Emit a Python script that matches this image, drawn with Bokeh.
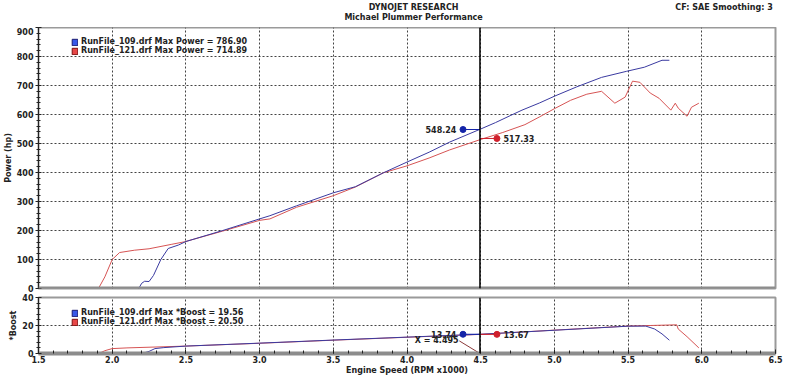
from bokeh.plotting import figure
from bokeh.layouts import column
from bokeh.models import (Span, Legend, LegendItem, Range1d, SingleIntervalTicker,
                          NumeralTickFormatter)
from bokeh.embed import file_html
from bokeh.resources import INLINE
from bokeh.core.properties import value

# ---------------- data ----------------
rpm_109 = [2.18, 2.20, 2.22, 2.25, 2.28, 2.33, 2.38, 2.45, 2.50, 2.75, 3.00, 3.07, 3.25, 3.50,
           3.65, 3.84, 4.00, 4.15, 4.29, 4.50, 4.60, 4.70, 4.78, 4.90, 5.00, 5.15, 5.32, 5.49,
           5.61, 5.73, 5.78]
hp_109 = [0, 18, 25, 24, 45, 100, 138, 150, 162, 200, 240, 251, 285, 330,
          351, 399, 436, 470, 505, 550, 572, 596, 615, 640, 663, 695, 728, 749,
          763, 787, 787]

rpm_121 = [1.91, 1.95, 2.00, 2.05, 2.15, 2.25, 2.40, 2.49, 2.75, 3.00, 3.07, 3.25, 3.50, 3.65,
           3.84, 4.00, 4.15, 4.29, 4.50, 4.65, 4.80, 4.90, 5.00, 5.11, 5.22, 5.32, 5.41, 5.48,
           5.53, 5.58, 5.65, 5.71, 5.79, 5.82, 5.84, 5.90, 5.93, 5.98]
hp_121 = [3, 40, 100, 124, 132, 137, 152, 161, 198, 235, 240, 280, 320, 350,
          399, 423, 450, 478, 514, 538, 565, 592, 620, 649, 670, 680, 639, 660,
          715, 711, 674, 656, 615, 639, 622, 594, 625, 639]

boost_rpm_109 = [2.20, 2.25, 2.29, 2.35, 2.50, 3.00, 3.50, 4.00, 4.50, 5.00, 5.50, 5.62, 5.68, 5.73, 5.78]
boost_109 = [0, 1.5, 3.5, 4.2, 5.3, 7.4, 9.6, 11.7, 13.74, 16.6, 19.5, 19.56, 17.5, 14.0, 9.5]

boost_rpm_121 = [1.91, 1.95, 2.00, 2.10, 2.50, 3.00, 3.50, 4.00, 4.50, 5.00, 5.50, 5.65, 5.83, 5.84, 5.90, 5.98]
boost_121 = [0, 2.0, 3.5, 4.0, 5.3, 7.3, 9.5, 11.6, 13.67, 16.7, 19.6, 20.0, 20.5, 17.5, 12.0, 4.0]

run_names = ["RunFile_109.drf", "RunFile_121.drf"]
max_power = [786.90, 714.89]
max_boost = [19.56, 20.50]
cursor_x = 4.495
cursor_hp = [548.24, 517.33]
cursor_boost = [13.74, 13.67]
x_start, x_end = 1.5, 6.5
title_lines = ["DYNOJET RESEARCH", "Michael Plummer Performance"]
settings_text = "CF: SAE  Smoothing: 3"

# ---------------- style ----------------
FONT = "DejaVu Sans"
BLUE = "#3a3aa0"
RED = "#d65454"
MBLUE = "#1424a8"
MRED = "#d0202c"
TXT = "#222222"
OFF = 0.115
W = 784
LB = 30
RB = 9
H0 = 27
NAN = float("nan")


def style(p):
    p.background_fill_color = "white"
    p.border_fill_color = "white"
    p.outline_line_color = "#9a9a9a"
    p.outline_line_width = 2
    xt = SingleIntervalTicker(interval=0.5, num_minor_ticks=5)
    p.xaxis.ticker = xt
    p.xgrid.ticker = xt
    p.xaxis.formatter = NumeralTickFormatter(format="0.0")
    p.xaxis.axis_line_color = "#8c8c8c"
    p.xaxis.axis_line_width = 4
    p.xaxis.major_tick_in = 4
    p.xaxis.major_tick_out = 0
    p.xaxis.minor_tick_in = 3
    p.xaxis.minor_tick_out = 0
    p.xaxis.major_tick_line_color = TXT
    p.xaxis.minor_tick_line_color = TXT
    p.yaxis.axis_line_color = TXT
    p.yaxis.major_tick_in = 3
    p.yaxis.major_tick_out = 3
    p.yaxis.minor_tick_in = 2
    p.yaxis.minor_tick_out = 2
    p.yaxis.major_tick_line_color = TXT
    p.yaxis.minor_tick_line_color = TXT
    for ax in p.axis:
        ax.major_label_text_font = FONT
        ax.major_label_text_font_size = "8px"
        ax.major_label_text_font_style = "bold"
        ax.major_label_text_color = TXT
        ax.major_label_standoff = 2
        ax.axis_label_text_font = FONT
        ax.axis_label_text_font_size = "8px"
        ax.axis_label_text_font_style = "bold"
        ax.axis_label_text_color = TXT
        ax.axis_label_standoff = 1
    for g in (p.xgrid, p.ygrid):
        g.grid_line_color = TXT
        g.grid_line_dash = "2 2"
        g.grid_line_width = 1
        g.grid_line_alpha = 0.85


def legend(p, labels, loc):
    rb = p.quad(left=[NAN], right=[NAN], top=[NAN], bottom=[NAN], fill_color="#3858e8",
                line_color="#1a1a70")
    rr = p.quad(left=[NAN], right=[NAN], top=[NAN], bottom=[NAN], fill_color="#e84848",
                line_color="#7a1010")
    lg = Legend(items=[LegendItem(label=labels[0], renderers=[rb]),
                       LegendItem(label=labels[1], renderers=[rr])],
                location=loc, orientation="vertical",
                background_fill_alpha=0, border_line_alpha=0,
                label_text_font=FONT, label_text_font_size="8px", label_text_font_style="bold",
                label_text_color=TXT, glyph_width=7, glyph_height=8, label_height=8,
                spacing=-1, padding=0, margin=0, label_standoff=3)
    p.add_layout(lg)


def txt(p, x, y, s, align, size="8px"):
    p.text(x=[x], y=[y], text=[s], text_align=align, text_baseline="middle",
           text_font=value(FONT), text_font_size=size, text_font_style="bold", text_color=TXT)


# ---------------- header ----------------
p0 = figure(width=W, height=H0, x_range=Range1d(0, W), y_range=Range1d(0, H0),
            x_axis_type=None, y_axis_type=None, output_backend="svg", toolbar_location=None,
            min_border=0)
p0.outline_line_color = None
p0.grid.visible = False
txt(p0, 399, H0 - 7, title_lines[0], "center")
txt(p0, 399, H0 - 17, title_lines[1], "center")
txt(p0, W, H0 - 7, settings_text, "right")

# ---------------- power panel ----------------
p1 = figure(width=W, height=266, x_range=Range1d(x_start, x_end), y_range=Range1d(0, 900),
            output_backend="svg", toolbar_location=None,
            min_border_left=LB, min_border_right=RB, min_border_top=0, min_border_bottom=5)
p1.yaxis.axis_label = "Power (hp)"
style(p1)
p1.xaxis.visible = False
p1.yaxis.ticker = SingleIntervalTicker(interval=100, num_minor_ticks=5)
p1.ygrid.ticker = SingleIntervalTicker(interval=100)
p1.add_layout(Span(location=0, dimension="width", line_color="#8c8c8c", line_width=4))

p1.line(rpm_121, hp_121, line_color=RED, line_width=1)
p1.line(rpm_109, hp_109, line_color=BLUE, line_width=1)

p1.add_layout(Span(location=cursor_x, dimension="height", line_color="black", line_width=1.5))
p1.segment(x0=[cursor_x - OFF, cursor_x], y0=cursor_hp, x1=[cursor_x, cursor_x + OFF], y1=cursor_hp,
           line_color=[MBLUE, MRED], line_width=1)
p1.scatter(x=[cursor_x - OFF, cursor_x + OFF], y=cursor_hp, size=6, fill_color=[MBLUE, MRED],
           line_color=[MBLUE, MRED])
txt(p1, cursor_x - OFF - 0.045, cursor_hp[0], f"{cursor_hp[0]:.2f}", "right")
txt(p1, cursor_x + OFF + 0.045, cursor_hp[1], f"{cursor_hp[1]:.2f}", "left")

legend(p1, [f"{run_names[0]} Max Power = {max_power[0]:.2f}",
            f"{run_names[1]} Max Power = {max_power[1]:.2f}"], (33, 233))

# ---------------- boost panel ----------------
p2 = figure(width=W, height=84, x_range=p1.x_range, y_range=Range1d(0, 40),
            output_backend="svg", toolbar_location=None,
            min_border_left=LB, min_border_right=RB, min_border_top=4, min_border_bottom=0)
p2.xaxis.axis_label = "Engine Speed (RPM x1000)"
p2.yaxis.axis_label = "*Boost"
style(p2)
p2.xaxis.axis_label_standoff = 0
p2.yaxis.ticker = SingleIntervalTicker(interval=20, num_minor_ticks=5)
p2.ygrid.ticker = SingleIntervalTicker(interval=20)

p2.line(boost_rpm_121, boost_121, line_color=RED, line_width=1)
p2.line(boost_rpm_109, boost_109, line_color=BLUE, line_width=1)
p2.add_layout(Span(location=cursor_x, dimension="height", line_color="black", line_width=1.5))
p2.segment(x0=[cursor_x - OFF, cursor_x], y0=cursor_boost, x1=[cursor_x, cursor_x + OFF],
           y1=cursor_boost, line_color=[MBLUE, MRED], line_width=1)
p2.scatter(x=[cursor_x - OFF, cursor_x + OFF], y=cursor_boost, size=6, fill_color=[MBLUE, MRED],
           line_color=[MBLUE, MRED])
txt(p2, cursor_x - OFF - 0.045, cursor_boost[0], f"{cursor_boost[0]:.2f}", "right")
txt(p2, cursor_x + OFF + 0.045, cursor_boost[1], f"{cursor_boost[1]:.2f}", "left")
p2.segment(x0=[cursor_x - 0.14], y0=[9.0], x1=[cursor_x], y1=[0], line_color="#8b3a3a", line_width=1)
txt(p2, cursor_x - 0.145, 9.0, f"X = {cursor_x:.3f}", "right")

legend(p2, [f"{run_names[0]} Max *Boost = {max_boost[0]:.2f}",
            f"{run_names[1]} Max *Boost = {max_boost[1]:.2f}"], (33, 27))

layout = column(p0, p1, p2, spacing=0)
open("out.html", "w").write(file_html(layout, INLINE))
